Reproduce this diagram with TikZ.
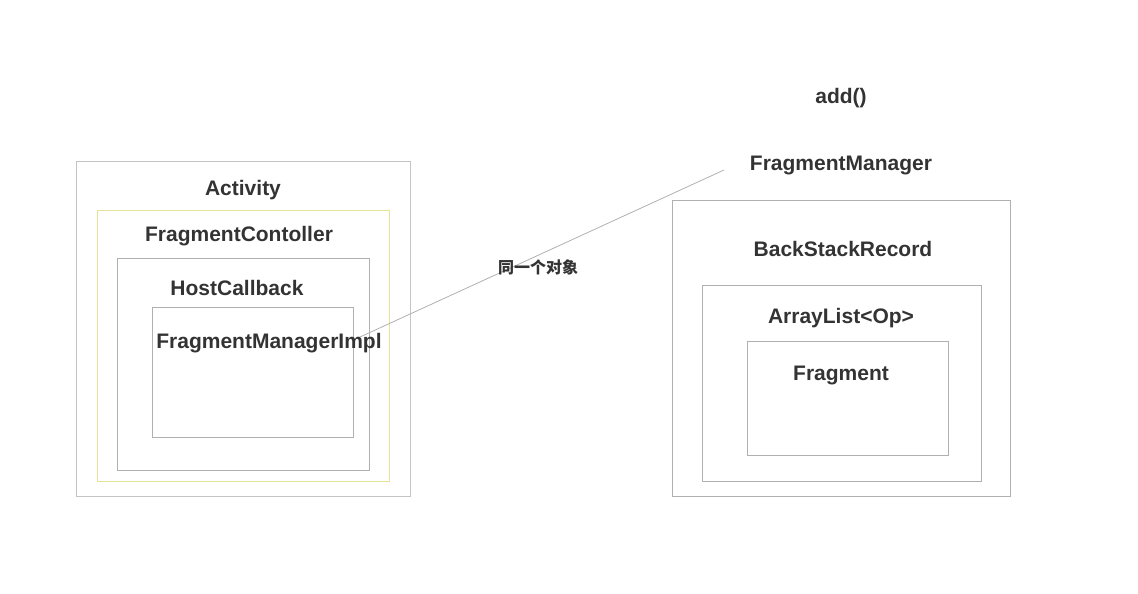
\documentclass[tikz,border=0pt]{standalone}
\usepackage{fontspec}
\setmainfont{Liberation Sans}
\newfontfamily\cjk{Noto Sans CJK SC}
\usepackage{xcolor}
\usepackage{tikz}
\usetikzlibrary{positioning}
\definecolor{txtgray}{HTML}{333333}
\definecolor{boxgray}{HTML}{B0B0B0}
\definecolor{outgray}{HTML}{C4C4C4}
\definecolor{pale}{HTML}{E4E498}

\begin{document}
\begin{tikzpicture}[x=1pt, y=-1pt,
  box/.style={draw=boxgray, line width=1pt, inner sep=0pt},
  lbl/.style={text=txtgray, font=\fontsize{21}{24}\selectfont\bfseries, inner sep=1pt}]
\useasboundingbox (0,0) rectangle (1138,594);
% left side: nested containers
\node[box, draw=outgray, minimum width=334pt, minimum height=335pt] (activity) at (243,328.5) {};
\node[box, draw=pale, minimum width=292pt, minimum height=271pt] (ctrl) at (243,345.5) {};
\node[box, minimum width=252pt, minimum height=212pt] (host) at (243,364) {};
\node[box, minimum width=201pt, minimum height=130pt] (impl) at (252.5,372) {};
\node[lbl] (activityL) at (243,190) {Activity};
\node[lbl] (ctrlL) at (239,236) {FragmentContoller};
\node[lbl] (hostL) at (237,288) {HostCallback};
\node[lbl] (implL) at (269,343) {FragmentManagerImpl};
% right side
\node[lbl] (addL) at (841,98) {add()};
\node[lbl] (fmL) at (841,166) {FragmentManager};
\node[box, minimum width=338pt, minimum height=296pt] (bsr) at (841,348) {};
\node[box, minimum width=279pt, minimum height=196pt] (ops) at (841.5,383) {};
\node[box, minimum width=201pt, minimum height=114pt] (frag) at (847.5,398) {};
\node[lbl] (bsrL) at (843,249) {BackStackRecord};
\node[lbl] (opsL) at (841,318) {ArrayList<Op>};
\node[lbl] (fragL) at (841,375) {Fragment};
% same object
\coordinate (implEnd) at (360,337);
\coordinate (fmEnd) at (724,170);
\draw[boxgray, line width=0.8pt] (implEnd) -- (fmEnd);
\node[text=txtgray, font=\cjk\fontsize{16}{18}\selectfont\bfseries, inner sep=1pt] (same) at (538,267) {同一个对象};
\end{tikzpicture}
\end{document}
